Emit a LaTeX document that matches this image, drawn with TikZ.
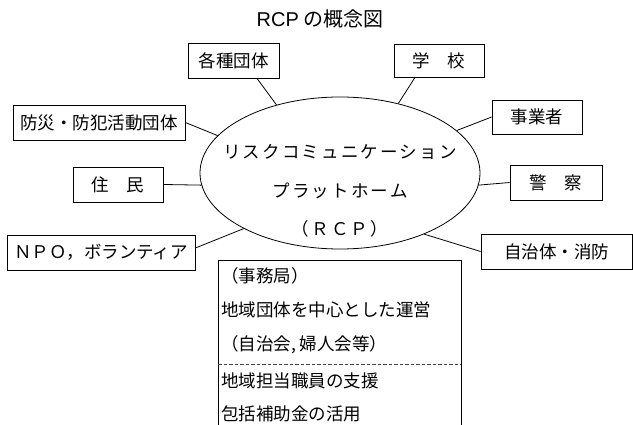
\documentclass[tikz,border=0pt]{standalone}
\usepackage{fontspec}
\setmainfont{Noto Sans CJK JP}
\newfontfamily\jpwide[LetterSpace=12.5]{Noto Sans CJK JP}
\newfontfamily\latinsans{Liberation Sans}
\usetikzlibrary{shapes.geometric}
\begin{document}
\begin{tikzpicture}[x=1pt,y=-1pt,
  lbl/.style={draw=black, line width=0.8pt, minimum height=35pt, inner sep=0pt,
              font=\fontsize{17.5}{20}\selectfont},
  conn/.style={line width=0.8pt, draw=black},
  etxt/.style={inner sep=0pt, font=\fontsize{17.5}{20}\jpwide},
  btxt/.style={inner sep=0pt, anchor=west, font=\fontsize{17.5}{20}\selectfont},
  dsh/.style={line width=0.8pt, draw=black!75, dash pattern=on 3.5pt off 2pt}
]
\useasboundingbox (0,0) rectangle (633,425);

% title
\node[inner sep=0pt, font=\fontsize{20}{22}\selectfont] (title) at (320,19) {{\latinsans RCP} の概念図};

% central ellipse
\node[draw=black, line width=0.8pt, ellipse, minimum width=280pt, minimum height=152pt, inner sep=0pt] (ell) at (340,173) {};
\node[etxt] (r1) at (340,152) {リスクコミュニケーション};
\node[etxt] (r2) at (340,191) {プラットホーム};
\node[etxt] (r3) at (340,229) {（ＲＣＰ）};

% surrounding boxes
\node[lbl, minimum width=91pt] (kakushu) at (233.5,60.5) {各種団体};
\node[lbl, minimum width=90pt, minimum height=33pt] (gakko) at (439,60.5) {学　校};
\node[lbl, minimum width=172pt] (bousai) at (99,122.5) {防災・防犯活動団体};
\node[lbl, minimum width=90pt, minimum height=34pt] (jigyo) at (537,117) {事業者};
\node[lbl, minimum width=90pt] (jumin) at (118,184.5) {住　民};
\node[lbl, minimum width=92pt] (keisatsu) at (556,182.5) {警　察};
\node[lbl, minimum width=188pt] (npo) at (101,252.5) {ＮＰＯ，ボランティア};
\node[lbl, minimum width=151pt] (jichitai) at (556.5,251.5) {自治体・消防};

% connectors
\draw[conn] ([xshift=23.5pt]kakushu.south) -- (ell.133);
\draw[conn] ([xshift=-24pt]gakko.south) -- (ell.50.6);
\draw[conn] (bousai.east) -- (ell.163.8);
\draw[conn] (jigyo.west) -- (ell.20.5);
\draw[conn] (jumin.east) -- (ell.185);
\draw[conn] (keisatsu.west) -- (ell.355.5);
\draw[conn] ([yshift=4.5pt]npo.east) -- (ell.210);
\draw[conn] (jichitai.west) -- (ell.324);

% secretariat box (open at the bottom)
\coordinate (bbl) at (218,425);
\coordinate (bbt) at (461,260);
\coordinate (bbr) at (461,425);
\draw[conn] (bbl) |- (bbt) -- (bbr);
\coordinate (dl) at (218,364);
\coordinate (dr) at (461,364);
\draw[dsh] (dl) -- (dr);

\node[btxt] (b1) at (221,276) {（事務局）};
\node[btxt] (b2) at (221,310) {地域団体を中心とした運営};
\node[btxt] (b3) at (221,345) {（自治会, 婦人会等）};
\node[btxt] (b4) at (221,381) {地域担当職員の支援};
\node[btxt] (b5) at (221,414) {包括補助金の活用};
\end{tikzpicture}
\end{document}
